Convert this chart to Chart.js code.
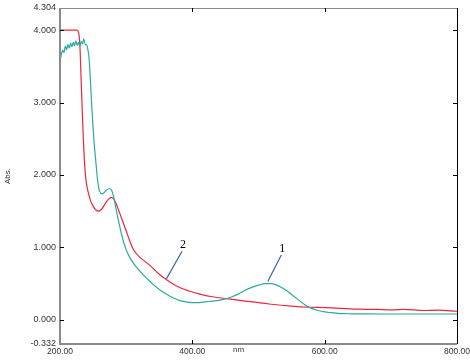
<!DOCTYPE html>
<html>
<head>
<meta charset="utf-8">
<script src="https://cdn.jsdelivr.net/npm/chart.js@4.4.1/dist/chart.umd.min.js"></script>
<style>
  html, body { margin: 0; background: #fff; }
  #wrap { width: 470px; height: 364px; }
</style>
</head>
<body>
<div id="wrap"><canvas id="spectrum"></canvas></div>
<script>
// curve 1 (teal)
const wl1 = [200, 202, 204, 206, 208, 210, 212, 214, 216, 218, 220, 222, 224, 226, 228, 230, 232, 234, 236, 238,
  240, 242, 244, 246, 248, 250, 252, 254, 256, 258, 260, 263, 266, 270, 275, 278, 281, 285, 290, 295,
  300, 305, 312, 320, 328, 335, 342, 350, 360, 370, 380, 390, 400, 410, 420, 430, 440, 450, 460, 470, 480,
  490, 500, 510, 520, 530, 540, 550, 560, 570, 580, 590, 600, 610, 620, 640, 660, 700, 750, 800];
const abs1 = [3.58, 3.66, 3.72, 3.69, 3.78, 3.73, 3.80, 3.75, 3.82, 3.77, 3.83, 3.78, 3.85, 3.79, 3.83, 3.78, 3.84, 3.81, 3.88, 3.80,
  3.80, 3.74, 3.60, 3.30, 2.95, 2.65, 2.40, 2.20, 2.00, 1.85, 1.77, 1.74, 1.75, 1.79, 1.81, 1.79, 1.70, 1.52, 1.30, 1.11,
  0.97, 0.87, 0.77, 0.68, 0.60, 0.54, 0.48, 0.42, 0.36, 0.31, 0.27, 0.25, 0.24, 0.24, 0.25, 0.26, 0.27, 0.29, 0.32, 0.36, 0.41,
  0.45, 0.48, 0.50, 0.50, 0.47, 0.42, 0.35, 0.28, 0.21, 0.16, 0.13, 0.11, 0.10, 0.09, 0.085, 0.083, 0.082, 0.082, 0.082];

// curve 2 (red)
const wl2 = [200, 226, 228, 230, 232, 234, 236, 238, 240, 243, 246, 250, 254, 258, 262, 266, 270, 275, 278, 281,
  285, 290, 300, 305, 310, 315, 320, 335, 350, 360, 370, 380, 395, 410, 430, 455, 480, 516, 550, 576, 600, 650,
  680, 700, 720, 750, 770, 800];
const abs2 = [4.00, 4.00, 3.97, 3.80, 3.30, 2.80, 2.35, 2.05, 1.88, 1.75, 1.65, 1.57, 1.52, 1.50, 1.52, 1.57, 1.63, 1.68, 1.69, 1.67,
  1.60, 1.48, 1.23, 1.10, 0.99, 0.92, 0.87, 0.76, 0.63, 0.56, 0.50, 0.45, 0.40, 0.36, 0.32, 0.29, 0.26, 0.22, 0.19, 0.175, 0.17, 0.15,
  0.145, 0.14, 0.145, 0.13, 0.135, 0.12];

const xTicks = [200, 400, 600, 800];
const yTicks = [-0.332, 0, 1, 2, 3, 4, 4.304];

// curve labels: text, label position, end of leader line
const tagText = ["1", "2"];
const tagAt = [[536, 0.98], [386, 1.03]];
const tagEnd = [[514, 0.53], [361, 0.57]];

const toPts = (xs, ys) => xs.map((x, i) => ({ x: x, y: ys[i] }));

const frame = {
  id: "frame",
  afterDraw(chart) {
    const { ctx, chartArea: a, scales: { x, y } } = chart;
    ctx.save();
    ctx.strokeStyle = "#8a8a8a";
    ctx.lineWidth = 1;
    ctx.beginPath();
    ctx.moveTo(a.left, a.top + 0.5);
    ctx.lineTo(a.right, a.top + 0.5);
    ctx.stroke();
    ctx.lineWidth = 2;
    ctx.beginPath();
    ctx.moveTo(a.left, a.top);
    ctx.lineTo(a.left, a.bottom);
    ctx.lineTo(a.right, a.bottom);
    ctx.stroke();
    ctx.strokeStyle = "#000";
    ctx.lineWidth = 1;
    ctx.beginPath();
    ctx.moveTo(a.right + 0.5, a.top);
    ctx.lineTo(a.right + 0.5, a.bottom);
    ctx.stroke();

    // inward ticks
    ctx.beginPath();
    yTicks.slice(1, -1).forEach(v => {
      const py = Math.round(y.getPixelForValue(v)) + 0.5;
      ctx.moveTo(a.left, py); ctx.lineTo(a.left + 4, py);
      ctx.moveTo(a.right, py); ctx.lineTo(a.right - 4, py);
    });
    xTicks.slice(1, -1).forEach(v => {
      const px = Math.round(x.getPixelForValue(v)) + 0.5;
      ctx.moveTo(px, a.bottom); ctx.lineTo(px, a.bottom - 4);
      ctx.moveTo(px, a.top); ctx.lineTo(px, a.top + 4);
    });
    ctx.stroke();

    // axis titles
    ctx.fillStyle = "#333";
    ctx.font = "8px 'Liberation Sans'";
    ctx.textAlign = "center";
    ctx.textBaseline = "middle";
    ctx.fillText("nm", a.left + (a.right - a.left) * 0.45, a.bottom + 6);
    ctx.translate(8, (a.top + a.bottom) / 2);
    ctx.rotate(-Math.PI / 2);
    ctx.fillText("Abs.", 0, 0);
    ctx.restore();

    // curve labels
    ctx.save();
    ctx.strokeStyle = "#3f5fa8";
    ctx.lineWidth = 1.2;
    ctx.fillStyle = "#000";
    ctx.font = "12px 'Liberation Serif'";
    ctx.textAlign = "center";
    ctx.textBaseline = "middle";
    tagText.forEach((t, i) => {
      const tx = x.getPixelForValue(tagAt[i][0]);
      const ty = y.getPixelForValue(tagAt[i][1]);
      ctx.fillText(t, tx, ty);
      ctx.beginPath();
      ctx.moveTo(tx - 1, ty + 6);
      ctx.lineTo(x.getPixelForValue(tagEnd[i][0]), y.getPixelForValue(tagEnd[i][1]));
      ctx.stroke();
    });
    ctx.restore();
  }
};

new Chart(document.getElementById("spectrum"), {
  type: "line",
  data: {
    datasets: [
      { label: "1", data: toPts(wl1, abs1), borderColor: "#2aaaa0", borderWidth: 1.2, pointRadius: 0, cubicInterpolationMode: "monotone" },
      { label: "2", data: toPts(wl2, abs2), borderColor: "#e8283a", borderWidth: 1.2, pointRadius: 0, cubicInterpolationMode: "monotone" }
    ]
  },
  options: {
    responsive: true,
    maintainAspectRatio: false,
    animation: false,
    layout: { padding: { top: 8, right: 13, left: 0, bottom: 0 } },
    plugins: { legend: { display: false }, tooltip: { enabled: false } },
    scales: {
      x: {
        type: "linear",
        min: 200,
        max: 800,
        grid: { display: false, drawTicks: false, tickLength: 0 },
        border: { display: false },
        afterBuildTicks: s => { s.ticks = xTicks.map(v => ({ value: v })); },
        afterFit: s => { s.height = 20; s.paddingLeft = 0; s.paddingRight = 0; },
        ticks: {
          color: "#333",
          font: { family: "'Liberation Sans'", size: 8.5 },
          padding: 3,
          maxRotation: 0,
          autoSkip: false,
          callback: v => v.toFixed(2)
        }
      },
      y: {
        min: -0.332,
        max: 4.304,
        grid: { display: false, drawTicks: false, tickLength: 0 },
        border: { display: false },
        afterBuildTicks: s => { s.ticks = yTicks.map(v => ({ value: v })); },
        afterFit: s => { s.width = 60; s.paddingTop = 0; s.paddingBottom = 0; },
        ticks: {
          color: "#333",
          font: { family: "'Liberation Sans'", size: 9 },
          padding: 4,
          autoSkip: false,
          callback: v => v.toFixed(3)
        }
      }
    }
  },
  plugins: [frame]
});
</script>
</body>
</html>
